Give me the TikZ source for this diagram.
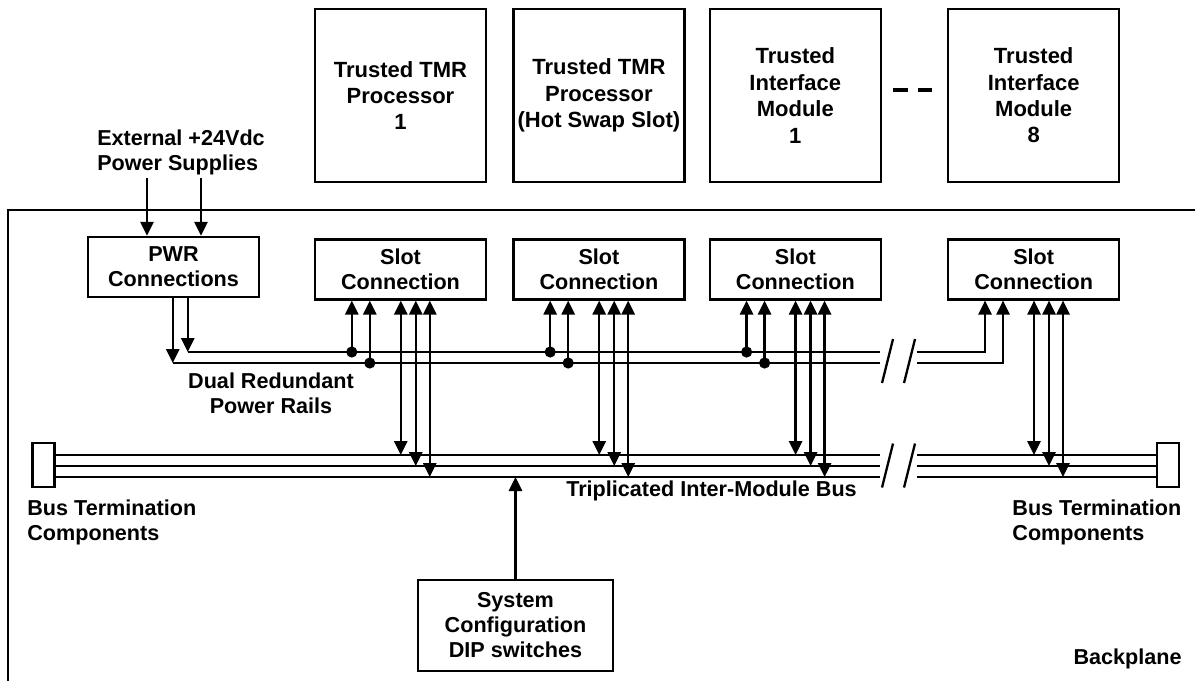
\documentclass[tikz,border=0pt]{standalone}
\usepackage{fontspec}
\setmainfont{Liberation Sans}
\usepackage{xcolor}
\definecolor{inkDark}{HTML}{000000}
\usepackage{tikz}
\usetikzlibrary{positioning,calc,arrows.meta}
\tikzset{%
  moduleBox/.style={%
    rectangle,
    draw=inkDark,
    line width=1.2pt,
    minimum width=85.5pt,
    minimum height=86.5pt,
    inner sep=1pt,
    align=center,
    font=\bfseries\fontsize{11}{13.2}\selectfont
  },
  slotBox/.style={%
    rectangle,
    draw=inkDark,
    line width=1.2pt,
    minimum width=85.5pt,
    minimum height=30pt,
    inner sep=2pt,
    align=center,
    font=\bfseries\fontsize{10.8}{12.5}\selectfont
  },
  dipBox/.style={%
    slotBox,
    minimum width=97.5pt,
    minimum height=45.5pt
  },
  termBox/.style={%
    rectangle,
    draw=inkDark,
    line width=1.2pt,
    minimum width=11pt,
    minimum height=22pt,
    inner sep=0pt
  },
  labelText/.style={%
    inner sep=0pt,
    align=left,
    font=\bfseries\fontsize{10.8}{12.5}\selectfont
  },
  railLine/.style={%
    line width=1.15pt,
    color=inkDark
  },
  sigArrow/.style={%
    -{Triangle[length=7pt,width=6.6pt]},
    line width=1.15pt,
    color=inkDark
  },
  busArrow/.style={%
    {Triangle[length=7pt,width=6.6pt]}-{Triangle[length=7pt,width=6.6pt]},
    line width=1.15pt,
    color=inkDark
  },
  modDash/.style={%
    line width=1.7pt,
    dash pattern=on 7.5pt off 5pt,
    color=inkDark
  }
}

\begin{document}
\begin{tikzpicture}[x=0.5pt, y=-0.5pt]
  \useasboundingbox (0,0) rectangle (1195,681);

  % modules above the backplane
  \node[moduleBox] (tmr1) at (400.5,95.5) {Trusted TMR\\Processor\\1};
  \node[moduleBox, right=12.5pt of tmr1] (tmr2) {Trusted TMR\\Processor\\(Hot Swap Slot)};
  \node[moduleBox, right=11.5pt of tmr2] (tim1) {Trusted\\Interface\\Module\\1};
  \node[moduleBox, right=32.5pt of tim1] (tim8) {Trusted\\Interface\\Module\\8};
  \draw[modDash] ($(tim1.east)+(11,-5.5)$) -- ($(tim8.west)+(-15,-5.5)$);

  % backplane
  \draw[railLine, line width=1.2pt] (8,681) -- (8,210) -- (1195,210);
  \node[labelText, anchor=east] (bpLabel) at (1182,658.5) {Backplane};

  % connectors on the backplane
  \node[slotBox] (pwr) at (173.5,267) {PWR\\Connections};
  \node[slotBox, below=27.5pt of tmr1] (slotA) {Slot\\Connection};
  \node[slotBox, below=27.5pt of tmr2] (slotB) {Slot\\Connection};
  \node[slotBox, below=27.5pt of tim1] (slotC) {Slot\\Connection};
  \node[slotBox, below=27.5pt of tim8] (slotD) {Slot\\Connection};

  % external supplies
  \node[labelText] (extLabel) at (181,152) {External +24Vdc\\Power Supplies};
  \coordinate (extA) at (147,178);
  \coordinate (extB) at (201,178);
  \draw[sigArrow] (extA) -- (extA |- pwr.north);
  \draw[sigArrow] (extB) -- (extB |- pwr.north);

  % power rails
  \coordinate (railTop) at (0,352);
  \coordinate (railBot) at (0,363);
  \coordinate (brkL) at (880,0);
  \coordinate (brkR) at (917,0);
  \path (pwr.south west) ++(86,0) coordinate (pwrA) ++(15,0) coordinate (pwrB);
  \draw[sigArrow] (pwrA) -- (pwrA |- railBot);
  \draw[sigArrow] (pwrB) -- (pwrB |- railTop);
  \draw[railLine] (pwrB |- railTop) -- (brkL |- railTop);
  \draw[railLine] (pwrA |- railBot) -- (brkL |- railBot);
  \node[labelText, align=center] (railLabel) at (271,393) {Dual Redundant\\Power Rails};

  % triplicated bus
  \coordinate (busA) at (0,455);
  \coordinate (busB) at (0,466);
  \coordinate (busC) at (0,477);
  \node[termBox] (termL) at (43.5,465) {};
  \node[termBox] (termR) at (1168,465) {};
  \foreach \b in {busA,busB,busC} {
    \draw[railLine] (termL.east |- \b) -- (brkL |- \b);
    \draw[railLine] (brkR |- \b) -- (termR.west |- \b);
  }
  \node[labelText] (busLabel) at (711.5,491) {Triplicated Inter-Module Bus};
  \node[labelText, anchor=west] (termLLabel) at (27,522) {Bus Termination\\Components};
  \node[labelText, anchor=west] (termRLabel) at (1012,522) {Bus Termination\\Components};

  % break marks
  \foreach \yc in {361,465.5} {
    \draw[railLine] (882,{\yc+22}) -- (893,{\yc-22});
    \draw[railLine] (904,{\yc+22}) -- (915,{\yc-22});
  }

  % slot taps
  \foreach \s in {slotA,slotB,slotC,slotD} {
    \path (\s.south west) ++(38,0) coordinate (\s-pa) ++(18,0) coordinate (\s-pb)
      ++(31,0) coordinate (\s-ba) ++(15,0) coordinate (\s-bb) ++(14,0) coordinate (\s-bc);
    \draw[busArrow] (\s-ba) -- (\s-ba |- busA);
    \draw[busArrow] (\s-bb) -- (\s-bb |- busB);
    \draw[busArrow] (\s-bc) -- (\s-bc |- busC);
  }
  \foreach \s in {slotA,slotB,slotC} {
    \draw[sigArrow] (\s-pa |- railTop) -- (\s-pa);
    \draw[sigArrow] (\s-pb |- railBot) -- (\s-pb);
    \fill[inkDark] (\s-pa |- railTop) circle (2.8pt);
    \fill[inkDark] (\s-pb |- railBot) circle (2.8pt);
  }
  \draw[sigArrow] (brkR |- railTop) -| (slotD-pa);
  \draw[sigArrow] (brkR |- railBot) -| (slotD-pb);

  % configuration switches
  \node[dipBox] (dip) at (515.5,625.5) {System\\Configuration\\DIP switches};
  \draw[sigArrow] (dip.north) -- (dip.north |- busC);
\end{tikzpicture}
\end{document}
